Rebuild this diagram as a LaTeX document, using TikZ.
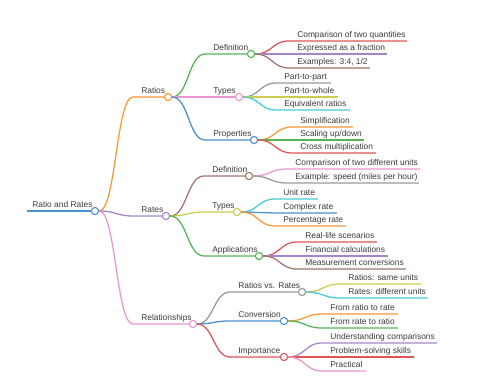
\documentclass[tikz,border=0pt]{standalone}
\usepackage{fontspec}
\setmainfont{Liberation Sans}
\usetikzlibrary{calc}
\definecolor{cBlue}{HTML}{4A90CE}
\definecolor{cOrange}{HTML}{FF9638}
\definecolor{cGreen}{HTML}{55B555}
\definecolor{cRed}{HTML}{DE5556}
\definecolor{cPurple}{HTML}{A585C9}
\definecolor{cBrown}{HTML}{A0766D}
\definecolor{cPink}{HTML}{E995D0}
\definecolor{cGray}{HTML}{999999}
\definecolor{cOlive}{HTML}{CBCC50}
\definecolor{cCyan}{HTML}{45CBD8}
\definecolor{txt}{HTML}{3A3A3A}
\tikzset{
  edge/.style={line width=0.95pt},
  rootedge/.style={line width=1.5pt,cBlue},
  dot/.style={circle,fill=white,line width=0.85pt,minimum size=5.4pt,inner sep=0pt},
  lbl/.style={font=\fontsize{6.3}{7}\selectfont,text=txt,inner sep=0pt,anchor=base west}
}
\newcommand{\mmedge}[6]{%
  \coordinate (#1-s) at (#5,#4);
  \coordinate (#1-e) at (#6,#4);
  \coordinate (#1-m) at ($(#2.east)!0.5!(#1-s)$);
  \draw[edge,#3] (#2.east) .. controls (#1-m |- #2.east) and (#1-m |- #1-s) .. (#1-s) -- (#1-e);
}
\newcommand{\mmleaf}[7]{%
  \mmedge{#1}{#2}{#3}{#4}{#5}{#6}
  \node[lbl] (#1-t) at ($(#1-s)+(8,-3.5)$) {#7};
}
\newcommand{\mminner}[7]{%
  \mmedge{#1}{#2}{#3}{#4}{#5}{#6}
  \node[dot,draw=#3] (#1) at (#1-e) {};
  \node[lbl] (#1-t) at ($(#1-s)+(8,-3.5)$) {#7};
}
\begin{document}
\begin{tikzpicture}[x=0.75pt,y=-0.75pt]
\useasboundingbox (0,0) rectangle (480,384);
% root
\coordinate (rootstart) at (27,211);
\coordinate (rootc) at (95,211);
\draw[rootedge] (rootstart) -- (rootc);
\node[dot,draw=cBlue] (root) at (rootc) {};
\node[lbl] (root-t) at ($(rootstart)+(5,-3.5)$) {Ratio and Rates};
% level 1
\mminner{ra}{root}{cOrange}{97}{133}{168}{Ratios}
\mminner{rt}{root}{cPurple}{216}{133}{166}{Rates}
\mminner{rel}{root}{cPink}{324}{133}{193}{Relationships}
% Ratios
\mminner{radef}{ra}{cGreen}{54}{205}{251}{Definition}
\mminner{raty}{ra}{cPink}{97}{205}{239}{Types}
\mminner{rapr}{ra}{cBlue}{140}{205}{254}{Properties}
\mmleaf{a1}{radef}{cRed}{41}{289}{407}{Comparison of two quantities}
\mmleaf{a2}{radef}{cPurple}{54}{289}{387}{Expressed as a fraction}
\mmleaf{a3}{radef}{cBrown}{68}{289}{370}{Examples: 3:4, 1/2}
\mmleaf{b1}{raty}{cGray}{83}{276}{331}{Part-to-part}
\mmleaf{b2}{raty}{cOlive}{97}{276}{338}{Part-to-whole}
\mmleaf{b3}{raty}{cCyan}{110}{276}{350}{Equivalent ratios}
\mmleaf{c1}{rapr}{cOrange}{127}{292}{353}{Simplification}
\mmleaf{c2}{rapr}{cGreen}{140}{292}{364}{Scaling up/down}
\mmleaf{c3}{rapr}{cRed}{153}{292}{376}{Cross multiplication}
% Rates
\mminner{rtdef}{rt}{cBrown}{176}{204}{249}{Definition}
\mminner{rtty}{rt}{cOlive}{212}{204}{237}{Types}
\mminner{rtap}{rt}{cGreen}{256}{204}{259}{Applications}
\mmleaf{d1}{rtdef}{cPink}{169}{287}{420}{Comparison of two different units}
\mmleaf{d2}{rtdef}{cGray}{183}{287}{419}{Example: speed (miles per hour)}
\mmleaf{e1}{rtty}{cCyan}{199}{275}{318}{Unit rate}
\mmleaf{e2}{rtty}{cBlue}{213}{275}{337}{Complex rate}
\mmleaf{e3}{rtty}{cOrange}{226}{275}{346}{Percentage rate}
\mmleaf{f1}{rtap}{cRed}{242}{297}{377}{Real-life scenarios}
\mmleaf{f2}{rtap}{cPurple}{256}{297}{388}{Financial calculations}
\mmleaf{f3}{rtap}{cBrown}{269}{297}{406}{Measurement conversions}
% Relationships
\mminner{rvr}{rel}{cGray}{292}{230}{302}{Ratios vs. Rates}
\mminner{con}{rel}{cBlue}{321}{230}{284}{Conversion}
\mminner{imp}{rel}{cRed}{357}{230}{284}{Importance}
\mmleaf{g1}{rvr}{cOlive}{284}{340}{421}{Ratios: same units}
\mmleaf{g2}{rvr}{cCyan}{298}{340}{428}{Rates: different units}
\mmleaf{h1}{con}{cOrange}{314}{322}{398}{From ratio to rate}
\mmleaf{h2}{con}{cGreen}{328}{322}{398}{From rate to ratio}
\mmleaf{i1}{imp}{cPurple}{343}{322}{437}{Understanding comparisons}
\mmleaf{i2}{imp}{cRed}{357}{322}{414}{Problem-solving skills}
\mmleaf{i3}{imp}{cPink}{371}{322}{366}{Practical}
\end{tikzpicture}
\end{document}
